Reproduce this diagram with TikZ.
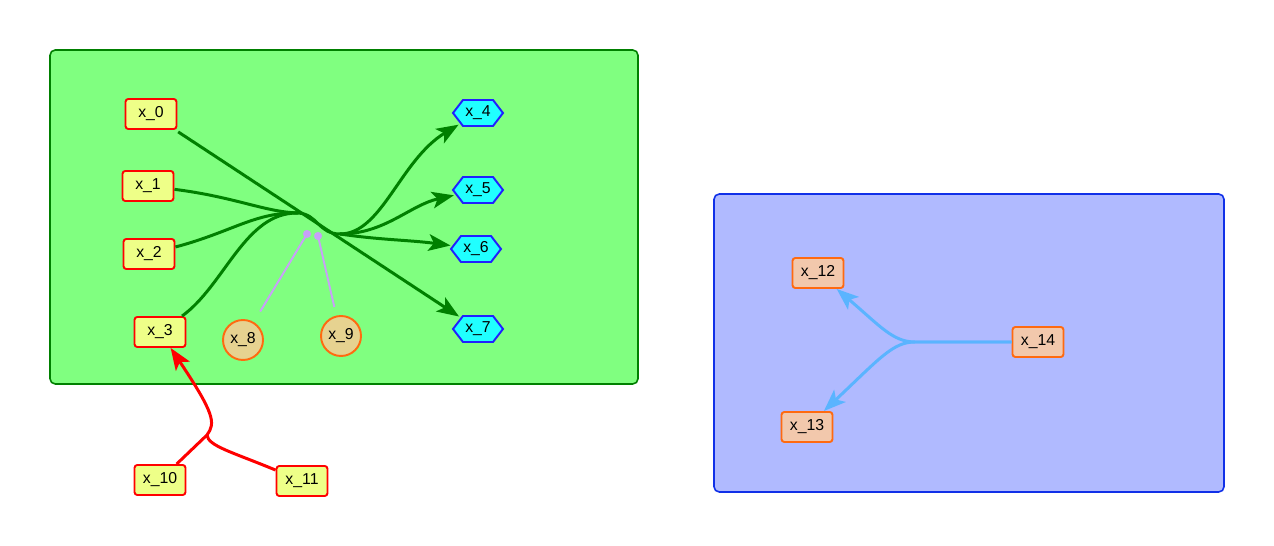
\documentclass[tikz,border=0pt]{standalone}
\usepackage{fontspec}
\setmainfont{Liberation Sans}
\usepackage{tikz}
\usetikzlibrary{arrows.meta,shapes.geometric,shapes.symbols}
\definecolor{leafgreen}{HTML}{80FF80}
\definecolor{darkgreen}{HTML}{008000}
\definecolor{skyfill}{HTML}{B0BAFF}
\definecolor{skyline}{HTML}{1030E8}
\definecolor{srcfill}{HTML}{EEFF88}
\definecolor{srcred}{HTML}{FF0000}
\definecolor{hexfill}{HTML}{20FFFF}
\definecolor{hexline}{HTML}{2020FF}
\definecolor{tanfill}{HTML}{E6D290}
\definecolor{orangeline}{HTML}{FF6A10}
\definecolor{peach}{HTML}{F2C8AC}
\definecolor{lilac}{HTML}{C8A0F8}
\definecolor{lightblue}{HTML}{5AB4FF}

\begin{document}
\begin{tikzpicture}[x=0.02cm,y=-0.02cm,>={Stealth[length=12.5pt,width=9.5pt,inset=3pt]},
  font=\fontsize{9}{11}\selectfont,
  srcbox/.style={draw=srcred,fill=srcfill,line width=1.1pt,rounded corners=1.6pt,
    minimum width=1.02cm,minimum height=0.6cm,inner sep=0pt},
  hexbox/.style={signal,signal to=east and west,signal pointer angle=105,
    draw=hexline,fill=hexfill,line width=1.1pt,minimum width=1cm,minimum height=0.52cm,inner sep=0pt},
  dotnode/.style={circle,draw=orangeline,fill=tanfill,line width=1.1pt,minimum size=0.8cm,inner sep=0pt},
  peachbox/.style={draw=orangeline,fill=peach,line width=1.1pt,rounded corners=1.6pt,
    minimum width=1.02cm,minimum height=0.6cm,inner sep=0pt},
  flow/.style={darkgreen,line width=1.7pt},
  feed/.style={srcred,line width=1.7pt},
  split/.style={lightblue,line width=1.7pt},
  tie/.style={lilac,line width=1.1pt}]
\useasboundingbox (0,0) rectangle (1274,546);

% clusters
\draw[darkgreen,fill=leafgreen,line width=0.9pt,rounded corners=3pt] (50,50) rectangle (638,384);
\draw[skyline,fill=skyfill,line width=0.9pt,rounded corners=3pt] (714,194) rectangle (1224,492);

% nodes
\node[srcbox] (x0) at (151,114) {x\_0};
\node[srcbox] (x1) at (148,186) {x\_1};
\node[srcbox] (x2) at (149,254) {x\_2};
\node[srcbox] (x3) at (160,332) {x\_3};
\node[hexbox] (x4) at (478,113) {x\_4};
\node[hexbox] (x5) at (478,190) {x\_5};
\node[hexbox] (x6) at (476,249) {x\_6};
\node[hexbox] (x7) at (478,329) {x\_7};
\node[dotnode] (x8) at (243,340) {x\_8};
\node[dotnode] (x9) at (341,336) {x\_9};
\node[srcbox] (x10) at (160,480) {x\_10};
\node[srcbox] (x11) at (302,481) {x\_11};
\node[peachbox] (x12) at (818,273) {x\_12};
\node[peachbox] (x13) at (807,427) {x\_13};
\node[peachbox] (x14) at (1038,342) {x\_14};

% bundle inside green cluster
\coordinate (hubin) at (298,213);
\coordinate (hubout) at (340,234);
\draw[flow,->,shorten <=2pt,shorten >=1pt] (x0) -- (x7);
\draw[flow] (x1) .. controls (235,197) and (265,212) .. (hubin)
  .. controls (318,214) and (318,234) .. (hubout);
\draw[flow] (x2) .. controls (232,232) and (255,212) .. (hubin);
\draw[flow] (x3) .. controls (225,285) and (245,212) .. (hubin);
\draw[flow,->,shorten >=1pt] (hubout) .. controls (382,234) and (400,160) .. (x4);
\draw[flow,->,shorten >=1pt] (hubout) .. controls (385,234) and (410,205) .. (x5);
\draw[flow,->,shorten >=1pt] (hubout) .. controls (380,240) and (410,240) .. (x6);

% ties to the bundle
\coordinate (d8) at (307,234);
\coordinate (d9) at (318,236);
\draw[tie,shorten <=7pt] (x8) -- (d8);
\draw[tie,shorten <=5pt] (x9) -- (d9);
\fill[lilac] (d8) circle (2.3pt);
\fill[lilac] (d9) circle (2.3pt);

% red feed
\coordinate (rj) at (207,435);
\draw[feed,->] (x10) -- (rj) .. controls (216,423) and (214,413) .. (x3);
\draw[feed] (x11) .. controls (232,452) and (208,446) .. (rj);

% blue split
\coordinate (bj) at (915,342);
\draw[split,->] (x14) -- (bj) .. controls (893,342) and (880,326) .. (x12);
\draw[split,->] (x14) -- (bj) .. controls (893,342) and (880,358) .. (x13);
\end{tikzpicture}
\end{document}
